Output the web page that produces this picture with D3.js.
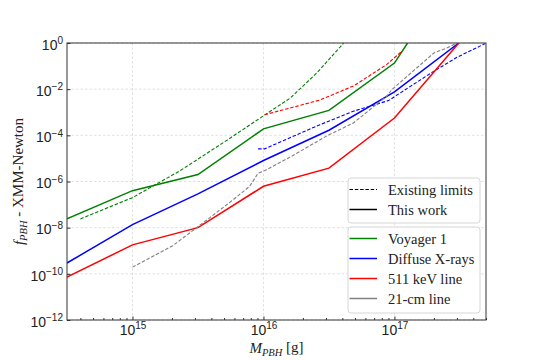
<!DOCTYPE html>
<html>
<head>
<meta charset="utf-8">
<script src="https://cdn.jsdelivr.net/npm/d3@7"></script>
<style>
  body { margin: 0; background: #fff; }
  svg { font-family: "Liberation Serif", "DejaVu Serif", serif; }
</style>
</head>
<body>
<svg id="chart" width="540" height="360"></svg>
<script>
// data (mass in g, f_PBH)
const voyagerM = [3.16e14, 1e15, 3.16e15, 1e16, 3.16e16, 1e17, 1.26e17]
const voyagerF = [2.4e-8, 4e-7, 2e-6, 1.9e-4, 1.2e-3, 1.35e-1, 1]
const voyagerOldM = [4.0e14, 1e15, 2.3e15, 4.9e15, 1e16, 1.6e16, 2.55e16, 4.1e16]
const voyagerOldF = [2.4e-8, 2.0e-7, 2.9e-6, 4.7e-5, 7e-4, 4.1e-3, 5.0e-2, 1]

const xrayM = [3.16e14, 1e15, 3.16e15, 1e16, 3.16e16, 1e17, 3.1e17]
const xrayF = [2.95e-10, 1.35e-8, 2.9e-7, 8.1e-6, 1.66e-4, 7.6e-3, 1]
const xrayOldM = [9.1e15, 1.02e16, 2.7e16, 4.85e16, 9.0e16, 1.99e17, 3.0e17, 4.9e17]
const xrayOldF = [2.6e-5, 2.6e-5, 2.9e-4, 1.1e-3, 3.2e-3, 5.9e-2, 2.4e-1, 9.3e-1]

const lineM = [3.16e14, 1e15, 3.16e15, 1e16, 3.16e16, 1e17, 3.1e17]
const lineF = [7.2e-11, 1.8e-9, 1e-8, 6.2e-7, 3.8e-6, 5.6e-4, 1]
const lineOldM = [1.02e16, 1.58e16, 2.7e16, 4.9e16, 8.7e16, 1.14e17]
const lineOldF = [7.8e-4, 1.5e-3, 3.4e-3, 1.4e-2, 1.15e-1, 4.4e-1]

const cmOldM = [1e15, 2.03e15, 2.73e15, 3.16e15, 3.86e15, 5.85e15, 7.85e15, 9.1e15,
    1.02e16, 1.58e16, 3.1e16, 4.85e16, 8.7e16, 9.55e16, 1.17e17, 2.0e17, 2.5e17, 3.0e17]
const cmOldF = [1.95e-10, 1.66e-9, 5.9e-9, 1.1e-8, 2.6e-8, 1.6e-7, 6.2e-7, 2.3e-6,
    2.95e-6, 1.1e-5, 1.0e-4, 3.4e-4, 4.9e-3, 9.5e-3, 2.6e-2, 3.7e-1, 6.0e-1, 1]

const series = [
    { name: 'Voyager 1', color: 'green', m: voyagerM, f: voyagerF, mOld: voyagerOldM, fOld: voyagerOldF },
    { name: 'Diffuse X-rays', color: 'blue', m: xrayM, f: xrayF, mOld: xrayOldM, fOld: xrayOldF },
    { name: '511 keV line', color: 'red', m: lineM, f: lineF, mOld: lineOldM, fOld: lineOldF },
    { name: '21-cm line', color: 'grey', m: null, f: null, mOld: cmOldM, fOld: cmOldF }
]

const xMajor = [1e15, 1e16, 1e17]
const yMajor = [1e0, 1e-2, 1e-4, 1e-6, 1e-8, 1e-10, 1e-12]

// layout
const pLeft = 67, pRight = 486, pTop = 43, pBottom = 320
const svg = d3.select('#chart')

const x = d3.scaleLog().domain([Math.pow(10, 14.5), 5e17]).range([pLeft, pRight])
const y = d3.scaleLog().domain([1e-12, 1]).range([pBottom, pTop])

// minor x ticks
const xMinor = []
for (let e = 14; e <= 17; e++) {
    for (let k = 2; k <= 9; k++) {
        const v = k * Math.pow(10, e)
        if (v >= x.domain()[0] && v <= x.domain()[1]) xMinor.push(v)
    }
}

// grid
const grid = svg.append('g').attr('class', 'grid')
grid.selectAll('line.gx')
    .data(xMajor)
    .enter()
    .append('line')
    .attr('x1', d => x(d)).attr('x2', d => x(d))
    .attr('y1', pTop).attr('y2', pBottom)
grid.selectAll('line.gy')
    .data(yMajor)
    .enter()
    .append('line')
    .attr('x1', pLeft).attr('x2', pRight)
    .attr('y1', d => y(d)).attr('y2', d => y(d))
grid.selectAll('line')
    .attr('stroke', '#d9d9d9')
    .attr('stroke-width', 0.8)
    .attr('stroke-dasharray', '2.5,2')

// curves
svg.append('clipPath').attr('id', 'clip')
    .append('rect')
    .attr('x', pLeft).attr('y', pTop)
    .attr('width', pRight - pLeft).attr('height', pBottom - pTop)
const plot = svg.append('g')
    .attr('clip-path', 'url(#clip)')

const line = d3.line()
    .x(d => x(d[0]))
    .y(d => y(d[1]))

series.forEach(s => {
    plot.append('path')
        .attr('d', line(d3.zip(s.mOld, s.fOld)))
        .attr('fill', 'none')
        .attr('stroke', s.color)
        .attr('stroke-width', 1.1)
        .attr('stroke-dasharray', '3.5,1.8')
    if (s.m) {
        plot.append('path')
            .attr('d', line(d3.zip(s.m, s.f)))
            .attr('fill', 'none')
            .attr('stroke', s.color)
            .attr('stroke-width', 1.5)
    }
})

// axes
const superscript = (sel, size) => {
    sel.each(function (d) {
        const t = d3.select(this)
        const e = Math.round(Math.log10(d))
        t.text(null)
        t.append('tspan').text('10')
        t.append('tspan')
            .attr('dy', '-0.55em')
            .attr('font-size', size)
            .text(e < 0 ? '\u2212' + -e : e)
    })
}

const xAxis = svg.append('g')
    .attr('transform', `translate(0,${pBottom})`)
    .call(d3.axisBottom(x).tickValues(xMajor).tickSize(-3.5).tickPadding(5))
xAxis.selectAll('.tick text')
    .attr('font-size', '14px')
    .attr('fill', '#222')
    .call(superscript, '10px')
svg.append('g')
    .attr('transform', `translate(0,${pBottom})`)
    .call(d3.axisBottom(x).tickValues(xMinor).tickSize(-2).tickFormat(''))
    .call(g => g.select('.domain').remove())

const yAxis = svg.append('g')
    .attr('transform', `translate(${pLeft},0)`)
    .call(d3.axisLeft(y).tickValues(yMajor).tickSize(-3.5).tickPadding(4))
yAxis.selectAll('.tick text')
    .attr('font-size', '14px')
    .attr('fill', '#222')
    .attr('dy', '0.45em')
    .call(superscript, '10px')

svg.selectAll('.domain').remove()
svg.selectAll('.tick line').attr('stroke', '#333')

// frame
svg.append('rect')
    .attr('x', pLeft).attr('y', pTop)
    .attr('width', pRight - pLeft).attr('height', pBottom - pTop)
    .attr('fill', 'none')
    .attr('stroke', '#333')
    .attr('stroke-width', 1)

// axis labels
const xl = svg.append('text')
    .attr('x', (pLeft + pRight) / 2)
    .attr('y', 353)
    .attr('text-anchor', 'middle')
    .attr('font-size', '15px')
    .attr('fill', '#222')
xl.append('tspan').attr('font-style', 'italic').text('M')
xl.append('tspan').attr('font-style', 'italic').attr('font-size', '10.5px').attr('dy', '0.3em').text('PBH')
xl.append('tspan').attr('dy', '-0.3em').text(' [g]')

const yl = svg.append('text')
    .attr('transform', `translate(24,${(pTop + pBottom) / 2}) rotate(-90)`)
    .attr('text-anchor', 'middle')
    .attr('font-size', '15px')
    .attr('fill', '#222')
yl.append('tspan').attr('font-style', 'italic').text('f')
yl.append('tspan').attr('font-style', 'italic').attr('font-size', '10.5px').attr('dy', '0.3em').text('PBH')
yl.append('tspan').attr('dy', '-0.3em').text(' - XMM-Newton')

// legends
const legendBox = (x0, y0, w, h, items) => {
    const g = svg.append('g')
    g.append('rect')
        .attr('x', x0).attr('y', y0)
        .attr('width', w).attr('height', h)
        .attr('rx', 3)
        .attr('fill', 'white')
        .attr('fill-opacity', 0.85)
        .attr('stroke', '#d6d6d6')
    items.forEach((it, i) => {
        const cy = y0 + 11.5 + i * 20
        g.append('line')
            .attr('x1', x0 + 1.5).attr('x2', x0 + 29)
            .attr('y1', cy).attr('y2', cy)
            .attr('stroke', it.color)
            .attr('stroke-width', it.dash ? 1.1 : 1.5)
            .attr('stroke-dasharray', it.dash ? '3.5,1.8' : null)
        g.append('text')
            .attr('x', x0 + 40)
            .attr('y', cy)
            .attr('dy', '0.35em')
            .attr('font-size', '14.5px')
            .attr('fill', '#222')
            .text(it.label)
    })
}
legendBox(348, 178, 132, 45, [
    { label: 'Existing limits', color: 'black', dash: true },
    { label: 'This work', color: 'black', dash: false }
])
legendBox(348, 227, 132, 86, series.map(s => ({ label: s.name, color: s.color, dash: false })))
</script>
</body>
</html>
